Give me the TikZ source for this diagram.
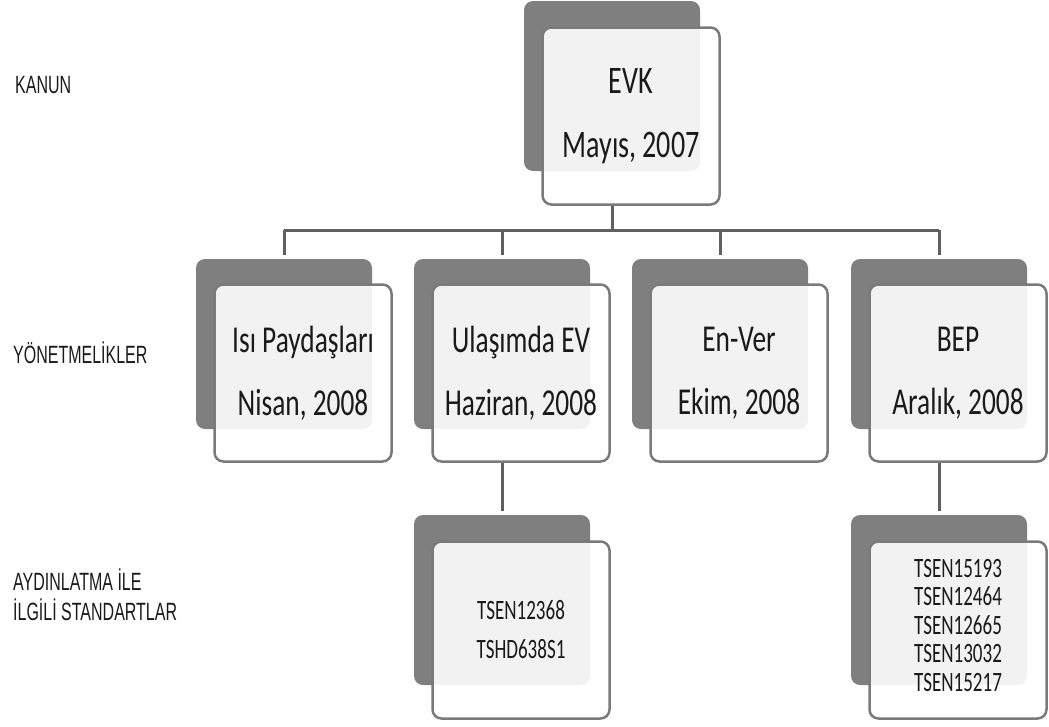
\documentclass[tikz,border=0pt]{standalone}
\usepackage{fontspec}
\setmainfont{Carlito}
\newfontfamily\boxfont[FakeStretch=0.72]{Carlito}
\newfontfamily\stdfont[FakeStretch=0.68]{Carlito}
\newfontfamily\rowfont[FakeStretch=0.64]{Liberation Sans}
\definecolor{backfill}{HTML}{7F7F7F}
\definecolor{frontline}{HTML}{7A7A7A}
\definecolor{linkline}{HTML}{606060}
\definecolor{inktext}{HTML}{1A1A1A}
\tikzset{
  backbox/.style={fill=backfill, rounded corners=9pt, minimum width=176pt,
                  minimum height=170pt, inner sep=0pt},
  frontbox/.style={draw=frontline, line width=2.5pt, fill=white, fill opacity=0.9,
                   text opacity=1, text=inktext, rounded corners=9pt,
                   minimum width=177pt, minimum height=177pt, inner sep=0pt,
                   align=center, font=\boxfont\fontsize{38}{63}\selectfont},
  stdbox/.style={frontbox, font=\stdfont\fontsize{28}{39}\selectfont},
  stdtext/.style={align=center, inner sep=0pt, text=inktext,
                  font=\stdfont\fontsize{28}{28.5}\selectfont},
  rowlabel/.style={anchor=west, align=left, inner sep=0pt, text=inktext,
                   font=\rowfont\fontsize{25}{30}\selectfont},
  connector/.style={draw=linkline, line width=3pt},
}

\begin{document}
\begin{tikzpicture}[x=1pt, y=-1pt]
    \useasboundingbox (0,0) rectangle (1049,726);
    % row labels
    \node[rowlabel] (kanun) at (15,85) {KANUN};
    \node[rowlabel] (yonetmelik) at (13,353) {YÖNETMELİKLER};
    \node[rowlabel] (standart) at (13,595) {AYDINLATMA İLE\\İLGİLİ STANDARTLAR};
    % kanun
    \node[backbox] (evk-b) at (612,86) {};
    \node[frontbox, font=\boxfont\fontsize{39}{64}\selectfont] (evk) at (631,116) {EVK\\Mayıs, 2007};
    % yonetmelikler
    \node[backbox] (isi-b) at (284,344) {};
    \node[frontbox] (isi) at (303,373) {Isı Paydaşları\\Nisan, 2008};
    \node[backbox] (ulasim-b) at (502,344) {};
    \node[frontbox] (ulasim) at (521,373) {Ulaşımda EV\\Haziran, 2008};
    \node[backbox] (enver-b) at (720,344) {};
    \node[frontbox] (enver) at (739,373) {En-Ver\\Ekim, 2008};
    \node[backbox] (bep-b) at (939,344) {};
    \node[frontbox] (bep) at (958,373) {BEP\\Aralık, 2008};
    % standartlar
    \node[backbox] (stdev-b) at (502,600) {};
    \node[stdbox] (stdev) at (521,630) {TSEN12368\\TSHD638S1};
    \node[backbox] (stdbep-b) at (939,600) {};
    \node[frontbox] (stdbep) at (958,630) {};
    \node[stdtext] (stdbep-t) at (958,625) {TSEN15193\\TSEN12464\\TSEN12665\\TSEN13032\\TSEN15217};
    % baglantilar
    \coordinate (bus) at (612,230);
    \draw[connector] (evk-b.center |- evk.south) -- (bus);
    \draw[connector] (bus -| isi-b) -- (bus -| bep-b);
    \foreach \n in {isi,ulasim,enver,bep}
      \draw[connector, shorten >=4pt] (bus -| \n-b) -- (\n-b.north);
    \draw[connector, shorten >=4pt] (ulasim-b.center |- ulasim.south) -- (stdev-b.north);
    \draw[connector, shorten >=4pt] (bep-b.center |- bep.south) -- (stdbep-b.north);
\end{tikzpicture}
\end{document}
